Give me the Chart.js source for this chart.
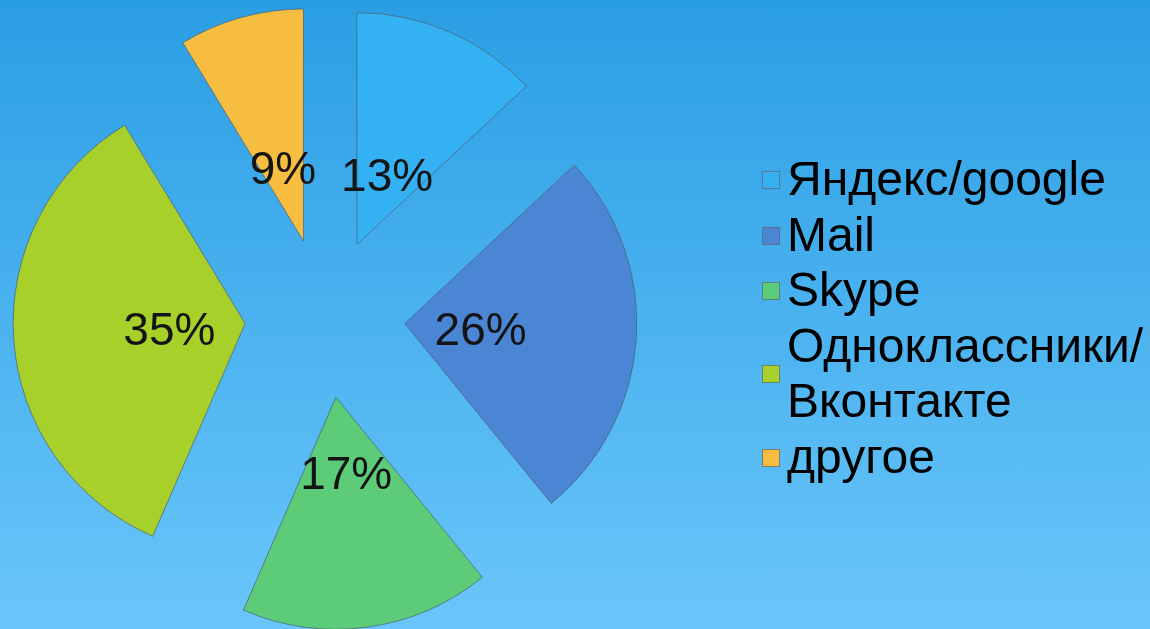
<!DOCTYPE html>
<html>
<head>
<meta charset="utf-8">
<script src="https://cdn.jsdelivr.net/npm/chart.js@4"></script>
<style>
	html, body { margin: 0; padding: 0; }
	body { width: 1150px; height: 629px; overflow: hidden; background: linear-gradient(to bottom, #2a9ee4, #6ac6fa); }
	canvas { display: block; }
</style>
</head>
<body>
<canvas id="myChart" width="1150" height="629"></canvas>
<script>
const labels = ['Яндекс/google', 'Mail', 'Skype', ['Одноклассники/', 'Вконтакте'], 'другое'];
const values = [3, 6, 4, 8, 2];
const colors = ['#33b1f3', '#4a86d3', '#5dcc78', '#a8d02b', '#f6bd40'];

const explode = 80;
const labelRadius = 156;
const fontFamily = '"Liberation Sans", Arial, sans-serif';

// pulls every slice out along its middle angle, then writes the percents
const explodePlugin = {
	id: 'explode',
	beforeDatasetDraw(chart, args) {
		const ctx = chart.ctx;
		args.meta.data.forEach((arc) => {
			const mid = (arc.startAngle + arc.endAngle) / 2;
			ctx.save();
			ctx.translate(Math.cos(mid) * explode, Math.sin(mid) * explode);
			arc.draw(ctx);
			ctx.restore();
		});
		return false;
	},
	afterDatasetsDraw(chart) {
		const ctx = chart.ctx;
		const meta = chart.getDatasetMeta(0);
		const total = values.reduce((a, b) => a + b, 0);
		ctx.save();
		ctx.font = '46px ' + fontFamily;
		ctx.fillStyle = '#141414';
		ctx.textAlign = 'center';
		ctx.textBaseline = 'alphabetic';
		meta.data.forEach((arc, i) => {
			const mid = (arc.startAngle + arc.endAngle) / 2;
			const x = arc.x + Math.cos(mid) * labelRadius;
			const y = arc.y + Math.sin(mid) * labelRadius;
			ctx.fillText(Math.round((values[i] / total) * 100) + '%', x, y + 16);
		});
		ctx.restore();
	},
};

const legendPlugin = {
	id: 'sideLegend',
	afterDraw(chart) {
		const ctx = chart.ctx;
		const boxX = 762;
		const textX = 787;
		const firstBaseline = 195;
		const lineGap = 55.5;
		const box = 18;
		let line = 0;
		ctx.save();
		ctx.font = '48px ' + fontFamily;
		ctx.textBaseline = 'alphabetic';
		labels.forEach((label, i) => {
			const lines = Array.isArray(label) ? label : [label];
			const top = firstBaseline + line * lineGap;
			const bottom = firstBaseline + (line + lines.length - 1) * lineGap;
			const boxY = Math.round((top + bottom) / 2 - 24);
			ctx.fillStyle = colors[i];
			ctx.fillRect(boxX, boxY, box, box);
			ctx.strokeStyle = 'rgba(90, 110, 125, 0.8)';
			ctx.lineWidth = 1;
			ctx.strokeRect(boxX + 0.5, boxY + 0.5, box - 1, box - 1);
			ctx.fillStyle = '#000';
			lines.forEach((text, j) => {
				ctx.fillText(text, textX, top + j * lineGap);
			});
			line += lines.length;
		});
		ctx.restore();
	},
};

const config = {
	type: 'pie',
	data: {
		labels: labels,
		datasets: [
			{
				data: values,
				backgroundColor: colors,
				borderColor: 'rgba(75, 100, 120, 0.75)',
				borderWidth: 1,
				radius: 232,
				clip: false,
			},
		],
	},
	options: {
		responsive: false,
		devicePixelRatio: 1,
		animation: false,
		layout: {
			padding: { left: 0, right: 500, top: 7, bottom: 0 },
		},
		plugins: {
			legend: { display: false },
			tooltip: { enabled: false },
		},
	},
	plugins: [explodePlugin, legendPlugin],
};

const myChart = new Chart(document.getElementById('myChart'), config);
</script>
</body>
</html>
